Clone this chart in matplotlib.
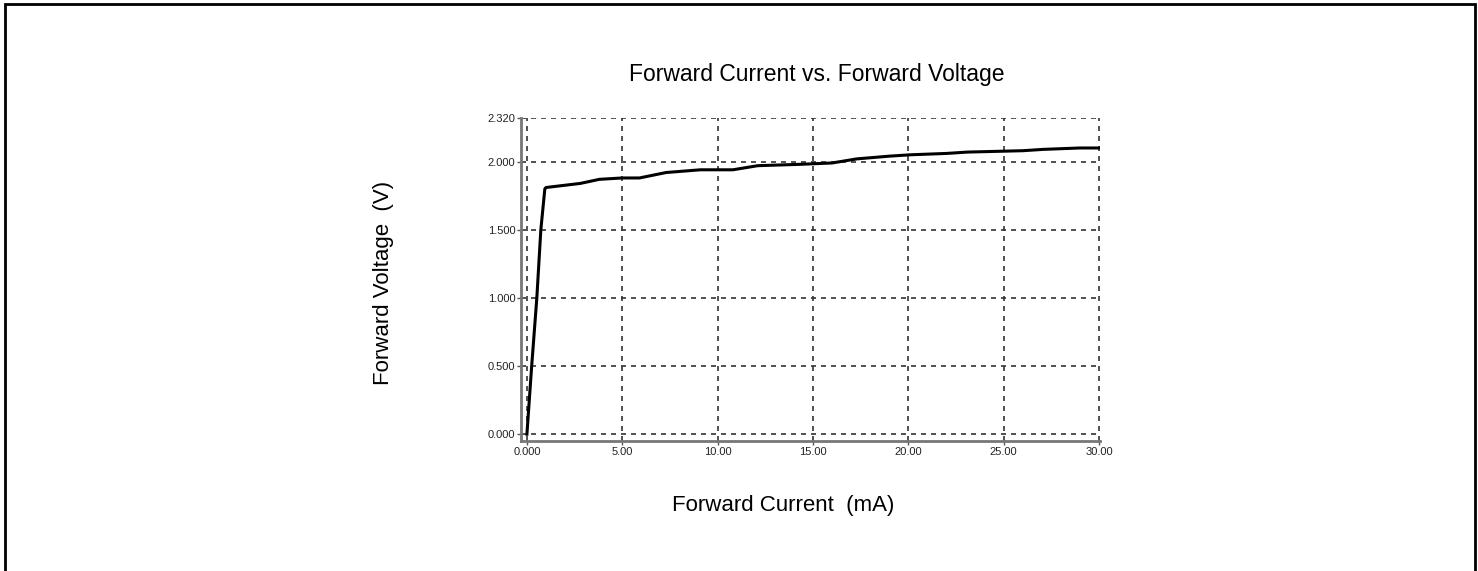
import numpy as np
import matplotlib
matplotlib.use('Agg')
import matplotlib.pyplot as plt
from matplotlib.patches import Rectangle

plt.rcParams['font.family'] = ['Liberation Sans', 'DejaVu Sans']

# forward current (mA) vs forward voltage (V)
current = [0.0, 0.25, 0.52, 0.73, 0.94, 1.0, 2.8, 3.8, 5.0, 5.9, 7.3, 9.1,
           10.8, 12.1, 14.3, 16.0, 17.3, 19.0, 20.1, 22.0, 23.1, 26.0, 27.1, 29.0, 30.0]
voltage = [0.0, 0.5, 1.0, 1.5, 1.80, 1.81, 1.84, 1.87, 1.88, 1.88, 1.92, 1.94,
           1.94, 1.97, 1.98, 1.99, 2.02, 2.04, 2.05, 2.06, 2.07, 2.08, 2.09, 2.10, 2.10]
xticks = [0, 5, 10, 15, 20, 25, 30]
xlabels = ['0.000', '5.00', '10.00', '15.00', '20.00', '25.00', '30.00']
yticks = [0, 0.5, 1.0, 1.5, 2.0, 2.32]
ylabels = ['0.000', '0.500', '1.000', '1.500', '2.000', '2.320']

W, H = 1478, 571
fig = plt.figure(figsize=(W / 100, H / 100), dpi=100)
ax = fig.add_axes([521 / W, (H - 441) / H, (1100 - 521) / W, (441 - 118) / H])

for x in xticks:
    ax.axvline(x, color='#333333', lw=1.2, ls=(0, (3, 3)), zorder=1)
for y in yticks:
    ax.axhline(y, color='#333333', lw=1.2, ls=(0, (3, 3)), zorder=1)

ax.plot(current, voltage, color='black', lw=2.2, zorder=3)

ax.set_xlim(-0.31, 30.05)
ax.set_ylim(-0.05, 2.32)
ax.set_xticks(xticks)
ax.set_xticklabels(xlabels)
ax.set_yticks(yticks)
ax.set_yticklabels(ylabels)
ax.tick_params(labelsize=8, length=3, width=1, color='#555555', pad=1,
               labelcolor='#222222')

for s in ['top', 'right']:
    ax.spines[s].set_visible(False)
for s in ['left', 'bottom']:
    ax.spines[s].set_color('#777777')
    ax.spines[s].set_linewidth(2)

fig.text(817 / W, 1 - 75 / H, 'Forward Current vs. Forward Voltage',
         ha='center', va='center', fontsize=16.5)
fig.text(783 / W, 1 - 505 / H, 'Forward Current  (mA)',
         ha='center', va='center', fontsize=16)
fig.text(384 / W, 1 - 283 / H, 'Forward Voltage  (V)',
         ha='center', va='center', fontsize=16, rotation=90)

# outer frame
fig.patches.append(Rectangle((5 / W, -0.05), (1475 - 5) / W, 1 - 4 / H + 0.05,
                             transform=fig.transFigure, fill=False,
                             edgecolor='black', lw=2))

fig.savefig('out.png', dpi=100)
